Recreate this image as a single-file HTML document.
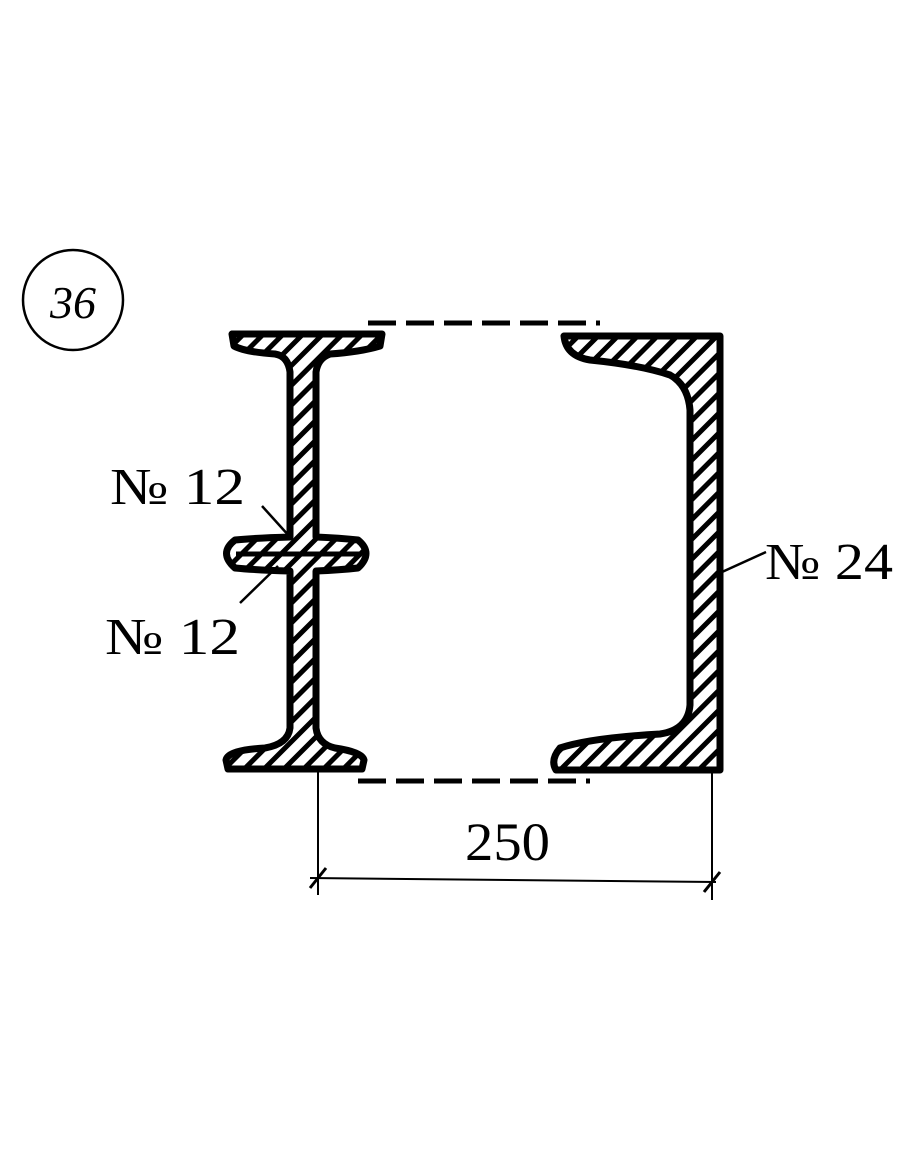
<!DOCTYPE html>
<html><head><style>body{margin:0;background:#fff}svg{display:block}</style></head><body>
<svg width="910" height="1155" viewBox="0 0 910 1155" xmlns="http://www.w3.org/2000/svg">
<defs>
<pattern id="h" width="14" height="14" patternUnits="userSpaceOnUse" patternTransform="rotate(45)">
<rect width="14" height="14" fill="#fff"/><rect x="0" y="0" width="5" height="14" fill="#000"/>
</pattern>
</defs>
<g stroke="#000" stroke-width="7" fill="url(#h)" stroke-linejoin="round">
<path d="M232,334 L382,334 L380,346 Q360,352 330,354 Q318,358 316,372 L316,537 Q340,538 358,540 Q374,553 358,568 Q340,570 316,571 L316,728 Q318,744 335,748 Q362,752 364,760 L362,769 L228,769 L226,760 Q228,750 265,748 Q288,744 290,728 L290,571 Q255,570 235,568 Q218,553 235,540 Q255,538 290,537 L290,372 Q288,356 275,354 Q245,352 234,346 Z"/>
<line x1="236" y1="554" x2="362" y2="554" stroke-width="5"/>
<path d="M564,336 L720,336 L720,770 L556,770 Q550,760 560,748 Q590,738 660,734 Q688,730 690,705 L690,410 Q688,385 670,375 Q640,365 590,360 Q566,356 564,336 Z"/>
</g>
<g stroke="#000" stroke-width="5" fill="none">
<path d="M368,323 H600" stroke-dasharray="28,10"/>
<path d="M358,781 H590" stroke-dasharray="28,10"/>
<line x1="318" y1="770" x2="318" y2="895" stroke-width="2"/>
<line x1="712" y1="770" x2="712" y2="900" stroke-width="2"/>
<line x1="310" y1="878" x2="716" y2="882" stroke-width="2"/>
<line x1="310" y1="888" x2="326" y2="868" stroke-width="3"/>
<line x1="704" y1="892" x2="720" y2="872" stroke-width="3"/>
<line x1="262" y1="506" x2="290" y2="537" stroke-width="2.5"/>
<line x1="240" y1="603" x2="278" y2="566" stroke-width="2.5"/>
<line x1="722" y1="572" x2="766" y2="552" stroke-width="2.5"/>
<circle cx="73" cy="300" r="50" stroke-width="2.5"/>
</g>
<g font-family="Liberation Serif, serif" fill="#000">
<text x="73" y="318" font-size="46" font-style="italic" text-anchor="middle">36</text>
<text x="110" y="504" font-size="52" textLength="135" lengthAdjust="spacingAndGlyphs">№ 12</text>
<text x="105" y="654" font-size="52" textLength="135" lengthAdjust="spacingAndGlyphs">№ 12</text>
<text x="765" y="579" font-size="52" textLength="128" lengthAdjust="spacingAndGlyphs">№ 24</text>
<text x="465" y="860" font-size="54" textLength="85" lengthAdjust="spacingAndGlyphs">250</text>
</g>
</svg>
</body></html>
